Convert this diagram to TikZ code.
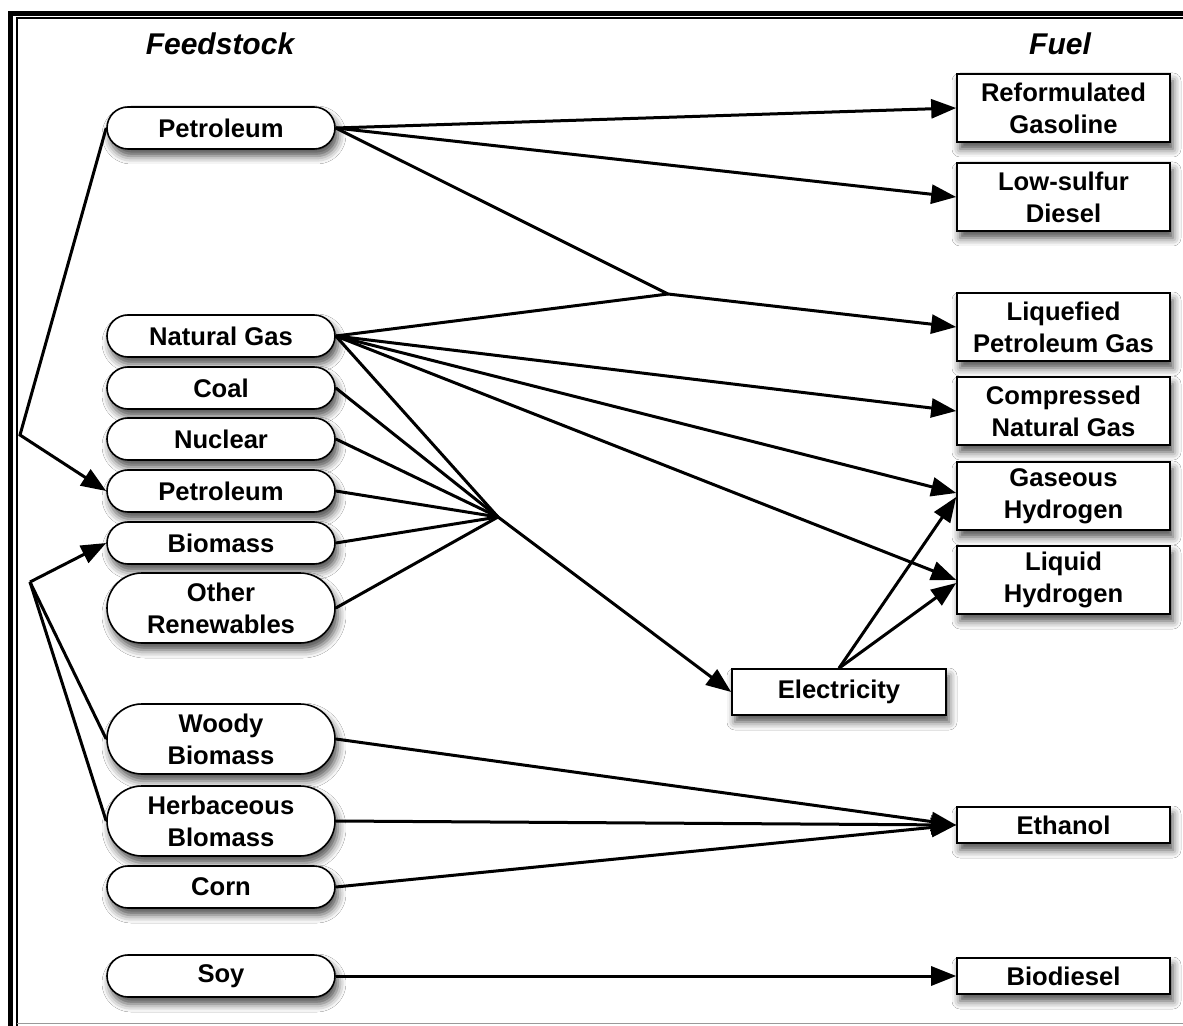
\documentclass[tikz,border=0pt]{standalone}
\usepackage{fontspec}
\setmainfont{Liberation Sans}
\usetikzlibrary{shapes.misc,shadows.blur,arrows.meta}
\begin{document}
\begin{tikzpicture}[x=0.5pt,y=-0.5pt,
  every node/.style={font=\fontsize{12.8}{16}\selectfont\bfseries, align=center, inner sep=0pt},
  shad/.style={blur shadow={shadow xshift=1.5pt, shadow yshift=-3.5pt, shadow blur radius=4pt, shadow opacity=70}},
  feed/.style={draw, rounded rectangle, fill=white, line width=0.8pt, minimum width=114pt, minimum height=21pt, shad},
  feedtwo/.style={feed, minimum height=35pt},
  fuel/.style={draw, rectangle, fill=white, line width=0.8pt, minimum width=106.5pt, minimum height=34pt, shad},
  fuelone/.style={fuel, minimum height=18pt},
  conn/.style={line width=1.5pt},
  arr/.style={conn, -{Triangle[length=12.5pt,width=9.5pt]}},
  head/.style={font=\fontsize{15}{18}\selectfont\bfseries\itshape}
]
\fill[white] (0,0) rectangle (1183,1026);
\useasboundingbox (0,0) rectangle (1183,1026);
% frame
\draw[line width=2.5pt] (10.5,1026) -- (10.5,13.5) -- (1183,13.5);
\draw[line width=1pt] (16.5,1026) -- (16.5,18.5) -- (1183,18.5);
\draw[black!40, line width=0.8pt] (17,1023.5) -- (1183,1023.5);

% headings
\node[head] (hfeed) at (220,44) {Feedstock};
\node[head] (hfuel) at (1060,44) {Fuel};

% feedstocks
\node[feed] (pet1) at (221,128) {Petroleum};
\node[feed] (ng) at (221,336) {Natural Gas};
\node[feed] (coal) at (221,388) {Coal};
\node[feed] (nuc) at (221,439) {Nuclear};
\node[feed] (pet2) at (221,491) {Petroleum};
\node[feed] (bio) at (221,543) {Biomass};
\node[feedtwo] (oth) at (221,608) {Other\\Renewables};
\node[feedtwo] (woody) at (221,739) {Woody\\Biomass};
\node[feedtwo] (herb) at (221,821) {Herbaceous\\Blomass};
\node[feed] (corn) at (221,887) {Corn};
\node[feed] (soy) at (221,976) {Soy};

% fuels
\node[fuel] (rg) at (1063.5,108) {Reformulated\\Gasoline};
\node[fuel] (lsd) at (1063.5,197) {Low-sulfur\\Diesel};
\node[fuel] (lpg) at (1063.5,327) {Liquefied\\Petroleum Gas};
\node[fuel] (cng) at (1063.5,411) {Compressed\\Natural Gas};
\node[fuel] (gh) at (1063.5,496) {Gaseous\\Hydrogen};
\node[fuel] (lh) at (1063.5,580) {Liquid\\Hydrogen};
\node[fuelone] (eth) at (1063.5,825) {Ethanol};
\node[fuelone] (biod) at (1063.5,976) {Biodiesel};
\node[fuel, minimum width=107pt, minimum height=23pt] (elec) at (839,692) {Electricity};

% junctions
\coordinate (j1) at (668,294);
\coordinate (j2) at (498,517);
\coordinate (l1) at (20,435);
\coordinate (l2) at (30,582);

% connectors
\draw[arr] (pet1.east) -- (rg.west);
\draw[arr] (pet1.east) -- (lsd.west);
\draw[conn] (pet1.east) -- (j1);
\draw[conn] (ng.east) -- (j1);
\draw[arr] (j1) -- (lpg.west);
\draw[arr] (ng.east) -- (cng.west);
\draw[arr] (ng.east) -- ([yshift=1.5pt]gh.west);
\draw[arr] (ng.east) -- (lh.west);
\draw[conn] (ng.east) -- (j2);
\draw[conn] (coal.east) -- (j2);
\draw[conn] (nuc.east) -- (j2);
\draw[conn] (pet2.east) -- (j2);
\draw[conn] (bio.east) -- (j2);
\draw[conn] (oth.east) -- (j2);
\draw[arr] (j2) -- (elec.west);
\draw[arr] (elec.north) -- ([yshift=-0.5pt]gh.west);
\draw[arr] (elec.north) -- ([yshift=-1.5pt]lh.west);

\draw[arr] (pet1.west) -- (l1) -- (pet2.west);
\draw[arr] (l2) -- (bio.west);
\draw[conn] (woody.west) -- (l2);
\draw[conn] (herb.west) -- (l2);

\draw[arr] (woody.east) -- (eth.west);
\draw[arr] (herb.east) -- (eth.west);
\draw[arr] (corn.east) -- (eth.west);
\draw[arr] (soy.east) -- (biod.west);
\end{tikzpicture}
\end{document}
